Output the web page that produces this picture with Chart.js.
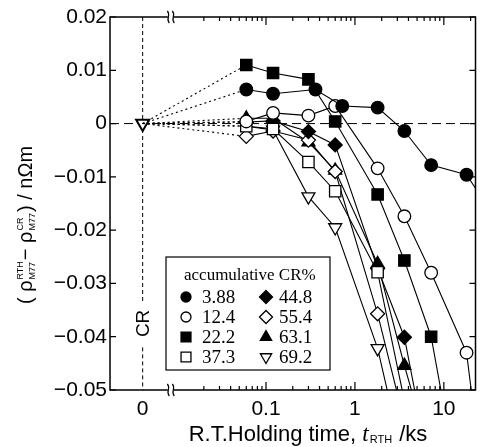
<!DOCTYPE html>
<html><head><meta charset="utf-8">
<script src="https://cdn.jsdelivr.net/npm/chart.js@4.4.1/dist/chart.umd.min.js"></script>
<style>html,body{margin:0;padding:0;background:#fff;}#wrap{width:485px;height:447px;}</style>
</head><body><div id="wrap"><canvas id="c" width="485" height="447"></canvas></div>
<script>
// ---- data ----
const CR_X = 0.0041;               // axis position standing for "0" (as cold rolled)
const X_MIN = 0.00176, X_MAX = 22.7;
const Y_MIN = -0.05, Y_MAX = 0.02, Y_STEP = 0.01;
const X_TICKS = [CR_X, 0.1, 1, 10];
const X_TICK_LABELS = ['0', '0.1', '1', '10'];
const CR_LABELS = ['3.88', '12.4', '22.2', '37.3', '44.8', '55.4', '63.1', '69.2'];

const TIMES = [0.06, 0.12, 0.3, 0.6, 1.8, 3.6, 7.2, 18, 36];
const TIMES_388 = [0.06, 0.12, 0.36, 0.72, 1.8, 3.6, 7.2, 18, 36];

const V_388 = [0.0064, 0.0056, 0.0064, 0.0033, 0.0030, -0.0014, -0.0078, -0.0096, -0.0172];
const V_124 = [0.0004, 0.0020, 0.0015, 0.0033, -0.0084, -0.0174, -0.0280, -0.0430, -0.0830];
const V_222 = [0.0110, 0.0095, 0.0083, 0.0004, -0.0133, -0.0257, -0.0400, -0.0765];
const V_373 = [-0.0005, -0.0010, -0.0072, -0.0127, -0.0279, -0.0520];
const V_448 = [0.0003, 0.0005, -0.0015, -0.0040, -0.0272, -0.0401, -0.0660];
const V_554 = [-0.0024, -0.0014, -0.0031, -0.0090, -0.0357, -0.0560];
const V_631 = [0.0010, 0.0010, -0.0035, -0.0088, -0.0263, -0.0454, -0.0630];
const V_692 = [-0.0005, -0.0012, -0.0137, -0.0195, -0.0422, -0.0640];

const SERIES = [V_388, V_124, V_222, V_373, V_448, V_554, V_631, V_692];
const SERIES_TIMES = [TIMES_388, TIMES, TIMES, TIMES, TIMES, TIMES, TIMES, TIMES];

// ---- styles ----
const MARKERS = [
  {ps: 'circle', fill: true, r: 6.3},
  {ps: 'circle', fill: false, r: 6.3},
  {ps: 'rect', fill: true, r: 8},
  {ps: 'rect', fill: false, r: 8},
  {ps: 'rectRot', fill: true, r: 7},
  {ps: 'rectRot', fill: false, r: 7},
  {ps: 'triangle', fill: true, r: 7.5},
  {ps: 'triangle', fill: false, r: 7.5, rot: 180}
];
const SANS = '"Liberation Sans", Arial, sans-serif';
const SERIF = '"Liberation Serif", "Times New Roman", serif';

function fmtY(v) {
  const r = Math.round(v * 100) / 100;
  if (r === 0) return '0';
  return (r < 0 ? '\u2212' : '') + Math.abs(r).toFixed(2);
}

function drawRich(ctx, parts, cx, cy, rot) {
  ctx.save();
  ctx.translate(cx, cy);
  if (rot) ctx.rotate(rot);
  ctx.textBaseline = 'alphabetic';
  ctx.textAlign = 'left';
  ctx.fillStyle = '#000';
  const w = parts.map(p => {
    ctx.font = p.font;
    if (p.t !== undefined) return ctx.measureText(p.t).width + (p.gap || 0);
    return Math.max(ctx.measureText(p.sup || '').width, ctx.measureText(p.sub || '').width) + (p.gap || 0);
  });
  let xx = -w.reduce((a, b) => a + b, 0) / 2;
  parts.forEach((p, i) => {
    ctx.font = p.font;
    if (p.t !== undefined) ctx.fillText(p.t, xx, p.dy || 0);
    else {
      if (p.sup) ctx.fillText(p.sup, xx, p.supDy);
      if (p.sub) ctx.fillText(p.sub, xx, p.subDy);
    }
    xx += w[i];
  });
  ctx.restore();
}

function marker(ctx, m, x, y, r) {
  ctx.save();
  ctx.fillStyle = m.fill ? '#000' : '#fff';
  ctx.strokeStyle = '#000';
  ctx.lineWidth = 1.3;
  Chart.helpers.drawPoint(ctx, {pointStyle: m.ps, rotation: m.rot || 0, radius: r, borderWidth: 1.3}, x, y);
  ctx.restore();
}

const decor = {
  id: 'decor',
  beforeDatasetsDraw(chart) {
    const {ctx, chartArea: a, scales: {x, y}} = chart;
    ctx.save();
    ctx.strokeStyle = '#000';
    ctx.lineWidth = 1;
    const y0 = y.getPixelForValue(0);
    ctx.setLineDash([9, 5]);
    ctx.beginPath(); ctx.moveTo(a.left, y0); ctx.lineTo(a.right, y0); ctx.stroke();
    const xc = x.getPixelForValue(CR_X);
    const crY = y.getPixelForValue(-0.0375);
    ctx.setLineDash([4, 3]);
    ctx.beginPath();
    ctx.moveTo(xc, a.top); ctx.lineTo(xc, crY - 22);
    ctx.moveTo(xc, crY + 24); ctx.lineTo(xc, a.bottom);
    ctx.stroke();
    ctx.setLineDash([]);
    ctx.translate(xc + 1, crY);
    ctx.rotate(-Math.PI / 2);
    ctx.font = '19px ' + SANS;
    ctx.fillStyle = '#000';
    ctx.textAlign = 'center';
    ctx.textBaseline = 'middle';
    ctx.fillText('CR', 0, 0);
    ctx.restore();
  },
  afterDatasetsDraw(chart) {
    const {ctx, chartArea: a, scales: {x, y}} = chart;
    ctx.save();
    ctx.strokeStyle = '#000';
    ctx.setLineDash([]);
    // frame
    ctx.lineWidth = 1.5;
    ctx.strokeRect(a.left, a.top, a.right - a.left, a.bottom - a.top);
    // y ticks (inward, both sides)
    ctx.lineWidth = 1.2;
    for (let i = -5; i <= 2; i++) {
      const yy = y.getPixelForValue(i * Y_STEP);
      ctx.beginPath();
      ctx.moveTo(a.left, yy); ctx.lineTo(a.left + 6, yy);
      ctx.moveTo(a.right, yy); ctx.lineTo(a.right - 6, yy);
      ctx.stroke();
    }
    // x ticks (log, inward top and bottom)
    for (let d = -2; d <= 1; d++) {
      for (let k = 1; k <= 9; k++) {
        const v = k * Math.pow(10, d);
        if (v < 0.015 || v > X_MAX) continue;
        const xx = x.getPixelForValue(v);
        const len = k === 1 ? 8 : 4;
        ctx.beginPath();
        ctx.moveTo(xx, a.top); ctx.lineTo(xx, a.top + len);
        ctx.moveTo(xx, a.bottom); ctx.lineTo(xx, a.bottom - len);
        ctx.stroke();
      }
    }
    // axis break marks
    const xb = x.getPixelForValue(0.0085);
    [a.top, a.bottom].forEach(yy => {
      ctx.fillStyle = '#fff';
      ctx.fillRect(xb - 3, yy - 3, 6, 6);
      ctx.lineWidth = 1.2;
      [-2.5, 2.5].forEach(dx => {
        ctx.beginPath();
        ctx.moveTo(xb + dx - 1, yy - 6);
        ctx.bezierCurveTo(xb + dx + 3, yy - 2, xb + dx - 3, yy + 2, xb + dx + 1, yy + 6);
        ctx.stroke();
      });
    });
    // legend
    const L = {x1: 166, y1: 257, x2: 330, y2: 370};
    ctx.fillStyle = '#fff';
    ctx.fillRect(L.x1, L.y1, L.x2 - L.x1, L.y2 - L.y1);
    ctx.lineWidth = 1.2;
    ctx.strokeRect(L.x1, L.y1, L.x2 - L.x1, L.y2 - L.y1);
    ctx.fillStyle = '#000';
    ctx.textBaseline = 'middle';
    ctx.textAlign = 'left';
    ctx.font = '17px ' + SERIF;
    ctx.fillText('accumulative CR%', 184, 276);
    const rowsY = [297, 317, 337, 357];
    CR_LABELS.forEach((lab, i) => {
      const col = Math.floor(i / 4), row = i % 4;
      const mx = col ? 266 : 186, tx = col ? 279 : 202;
      const m = MARKERS[i];
      marker(ctx, m, mx, rowsY[row], m.ps === 'circle' ? 5 : (m.ps === 'rect' ? 7 : 6.5));
      ctx.fillStyle = '#000';
      ctx.font = '19px ' + SERIF;
      ctx.textBaseline = 'middle';
      ctx.textAlign = 'left';
      ctx.fillText(lab, tx, rowsY[row] + 1);
    });
    // axis titles
    drawRich(ctx, [
      {t: 'R.T.Holding time, ', font: '22px ' + SANS},
      {t: 't', font: 'italic 23px ' + SERIF, gap: 1},
      {sup: '', sub: 'RTH', font: '11px ' + SANS, subDy: 2, gap: 1},
      {t: ' /ks', font: '22px ' + SANS}
    ], 308, 441, 0);
    drawRich(ctx, [
      {t: '( \u03C1', font: '20px ' + SANS, gap: 1},
      {sup: 'RTH', sub: 'M77', font: '9px ' + SANS, supDy: -9, subDy: 3, gap: 1},
      {t: '\u2212 \u03C1', font: '20px ' + SANS, gap: 1},
      {sup: 'CR', sub: 'M77', font: '9px ' + SANS, supDy: -9, subDy: 3, gap: 1},
      {t: ') / n\u03A9m', font: '20px ' + SANS}
    ], 32, 225, -Math.PI / 2);
    ctx.restore();
  }
};

const datasets = SERIES.map((vals, i) => {
  const m = MARKERS[i];
  const times = SERIES_TIMES[i];
  return {
    label: CR_LABELS[i],
    data: [{x: CR_X, y: 0}].concat(vals.map((v, j) => ({x: times[j], y: v}))),
    borderColor: '#000',
    borderWidth: 1.1,
    pointStyle: m.ps,
    pointRotation: m.rot || 0,
    pointRadius: ctx => ctx.dataIndex === 0 ? (i === 7 ? 7.5 : 0) : m.r,
    pointHoverRadius: ctx => ctx.dataIndex === 0 ? (i === 7 ? 7.5 : 0) : m.r,
    pointBackgroundColor: m.fill ? '#000' : '#fff',
    pointBorderColor: '#000',
    pointBorderWidth: ctx => ctx.dataIndex === 0 ? 2 : 1.3,
    tension: 0,
    clip: 0,
    segment: {borderDash: ctx => ctx.p0DataIndex === 0 ? [2, 3] : undefined}
  };
});

new Chart(document.getElementById('c'), {
  type: 'line',
  data: {datasets},
  options: {
    responsive: false,
    devicePixelRatio: 1,
    animation: false,
    events: [],
    layout: {padding: {top: 17, right: 5, left: 0, bottom: 0}},
    plugins: {legend: {display: false}, tooltip: {enabled: false}},
    scales: {
      x: {
        type: 'logarithmic',
        position: 'bottom',
        min: X_MIN, max: X_MAX,
        grid: {display: false, drawTicks: false},
        border: {display: false},
        afterBuildTicks: s => { s.ticks = X_TICKS.map(v => ({value: v})); },
        afterFit: s => { s.height = 57; },
        ticks: {
          color: '#000', font: {family: SANS, size: 21}, padding: 7,
          autoSkip: false, maxRotation: 0, minRotation: 0,
          callback: (v) => { const i = X_TICKS.findIndex(t => Math.abs(t - v) < 1e-9); return i >= 0 ? X_TICK_LABELS[i] : ''; }
        }
      },
      y: {
        type: 'linear',
        min: Y_MIN, max: Y_MAX,
        grid: {display: false, drawTicks: false},
        border: {display: false},
        afterFit: s => { s.width = 110; },
        ticks: {
          stepSize: Y_STEP, color: '#000', font: {family: SANS, size: 21}, padding: 3,
          callback: v => fmtY(v)
        }
      }
    }
  },
  plugins: [decor]
});
</script>
</body></html>
